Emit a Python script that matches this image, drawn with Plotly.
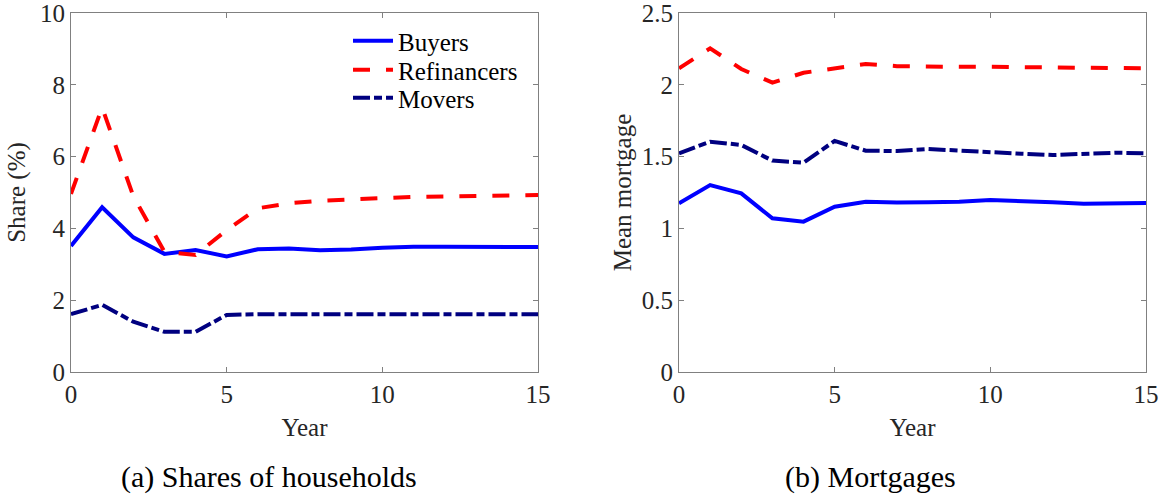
import plotly.graph_objects as go

years = list(range(16))

share_buyers = [3.51, 4.59, 3.75, 3.29, 3.40, 3.22, 3.42, 3.44, 3.39, 3.41, 3.46, 3.49, 3.49, 3.48, 3.48, 3.48]
share_refin = [4.96, 7.37, 4.90, 3.35, 3.26, 3.95, 4.56, 4.70, 4.77, 4.81, 4.86, 4.88, 4.89, 4.91, 4.92, 4.93]
share_movers = [1.61, 1.87, 1.40, 1.12, 1.12, 1.59, 1.61, 1.61, 1.61, 1.61, 1.61, 1.61, 1.61, 1.61, 1.61, 1.61]

mort_buyers = [1.175, 1.302, 1.244, 1.070, 1.047, 1.151, 1.186, 1.180, 1.182, 1.186, 1.198, 1.193, 1.182, 1.172, 1.177, 1.177]
mort_refin = [2.115, 2.254, 2.110, 2.015, 2.084, 2.115, 2.145, 2.130, 2.125, 2.125, 2.125, 2.124, 2.122, 2.120, 2.118, 2.115]
mort_movers = [1.523, 1.604, 1.581, 1.472, 1.458, 1.609, 1.541, 1.539, 1.553, 1.541, 1.525, 1.520, 1.511, 1.518, 1.527, 1.523]

names = ["Buyers", "Refinancers", "Movers"]
colors = ["#0000ff", "#ff0000", "#000080"]
dashes = ["solid", "17px,16px", "17px,4px,8px,4px"]
legend_ids = ["legend", "legend2", "legend3"]

W, H = 1167, 495
def px_x(p):
    return p / W
def px_y(p):
    return 1 - p / H

FONT = "Liberation Serif"
TXT = "#262626"

fig = go.Figure()
left = [share_buyers, share_refin, share_movers]
right = [mort_buyers, mort_refin, mort_movers]
for i in range(3):
    fig.add_trace(go.Scatter(x=years, y=left[i], mode="lines", name=names[i],
                             line=dict(color=colors[i], width=4, dash=dashes[i]),
                             xaxis="x", yaxis="y", showlegend=True, legend=legend_ids[i]))
for i in range(3):
    fig.add_trace(go.Scatter(x=years, y=right[i], mode="lines", name=names[i],
                             line=dict(color=colors[i], width=4, dash=dashes[i]),
                             xaxis="x2", yaxis="y2", showlegend=False))

axis_common = dict(showline=True, linecolor="#808080", linewidth=1, mirror="ticks",
                   ticks="inside", ticklen=5, tickcolor="#808080", showgrid=False,
                   zeroline=False, automargin=False, ticklabeloverflow="allow",
                   tickfont=dict(family=FONT, size=25, color=TXT))

def legend_at(ypx):
    return dict(x=px_x(348), y=px_y(ypx), xanchor="left", yanchor="middle",
                font=dict(family=FONT, size=25, color="black"),
                bgcolor="rgba(255,255,255,0)", borderwidth=0, itemwidth=40)

title_font = dict(family=FONT, size=25, color=TXT)

fig.update_layout(
    width=W, height=H,
    margin=dict(l=0, r=0, t=0, b=0, autoexpand=False),
    paper_bgcolor="white", plot_bgcolor="white",
    xaxis=dict(domain=[px_x(71), px_x(538)], range=[0, 15], tickvals=[0, 5, 10, 15],
               title=dict(text="Year", font=title_font, standoff=11),
               anchor="y", **axis_common),
    yaxis=dict(domain=[px_y(372), px_y(13)], range=[0, 10], tickvals=[0, 2, 4, 6, 8, 10],
               title=dict(text="Share (%)", font=title_font, standoff=7),
               anchor="x", **axis_common),
    xaxis2=dict(domain=[px_x(679), px_x(1146)], range=[0, 15], tickvals=[0, 5, 10, 15],
                title=dict(text="Year", font=title_font, standoff=11),
                anchor="y2", **axis_common),
    yaxis2=dict(domain=[px_y(372), px_y(13)], range=[0, 2.5], tickvals=[0, 0.5, 1, 1.5, 2, 2.5],
                ticktext=["0", "0.5", "1", "1.5", "2", "2.5"],
                title=dict(text="Mean mortgage", font=title_font, standoff=3),
                anchor="x2", **axis_common),
    legend=legend_at(41),
    legend2=legend_at(70),
    legend3=legend_at(98),
    annotations=[
        dict(text="(a) Shares of households", x=px_x(269), y=px_y(477), xref="paper", yref="paper",
             xanchor="center", yanchor="middle", showarrow=False,
             font=dict(family=FONT, size=30, color="black")),
        dict(text="(b) Mortgages", x=px_x(870), y=px_y(477), xref="paper", yref="paper",
             xanchor="center", yanchor="middle", showarrow=False,
             font=dict(family=FONT, size=30, color="black")),
    ],
)

fig.write_html("out.html")
